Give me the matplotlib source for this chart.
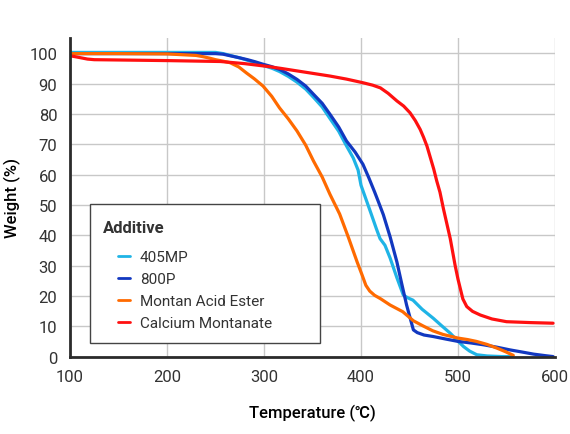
import matplotlib
matplotlib.use('Agg')
import matplotlib.pyplot as plt
from matplotlib.patches import Rectangle

plt.rcParams['font.family'] = ['Roboto', 'Noto Sans CJK JP', 'DejaVu Sans']

# TGA curves (temperature in C, weight in %)
t_405mp = [100, 150, 200, 250, 258, 265, 275, 283, 291, 299, 308, 316, 325, 334, 343, 351, 360, 368, 377, 385,
           392, 397, 400, 403, 410, 416, 419.6, 424.7, 430, 437, 443.6, 448, 453.6, 463, 474.6, 483, 492, 499,
           505.7, 512, 519.4, 530, 545, 555]
w_405mp = [100.3, 100.3, 100.3, 100.3, 99.9, 99.3, 98.5, 97.7, 96.9, 96.0, 95.1, 94.0, 92.4, 90.5, 88.2, 85.5, 82.3, 78.5, 74.3, 69.5,
           65.5, 61.5, 56.5, 53.8, 47.5, 42.0, 38.9, 36.7, 32.5, 26.0, 20.3, 19.4, 18.6, 15.6, 12.6, 10.2, 7.7, 5.4,
           3.3, 1.8, 0.6, 0.2, 0.0, 0.0]

t_800p = [100, 150, 200, 250, 258, 265, 275, 283, 291, 299, 308, 316, 325, 334, 343, 351, 360, 368, 377, 385,
          394, 402, 408, 414, 418, 423, 430, 437, 442, 447, 454, 458, 465, 474.6, 487, 500, 513, 526, 540, 553.6, 566,
          578, 590, 598]
w_800p = [99.9, 99.9, 99.9, 99.9, 99.7, 99.2, 98.5, 97.9, 97.2, 96.4, 95.6, 94.7, 93.2, 91.4, 89.2, 86.5, 83.5, 79.9, 75.7, 71.1,
          67.4, 63.4, 59.0, 54.3, 51.0, 46.8, 39.5, 31.2, 24.0, 17.0, 8.8, 7.9, 7.1, 6.6, 5.8, 5.0, 4.5, 3.9, 3.1, 2.2, 1.5,
          0.8, 0.3, 0.0]

t_mae = [100, 150, 200, 230, 237, 244, 250, 258, 265, 274, 282, 290, 299, 308, 316, 325, 334, 343, 351, 360,
         368, 378, 387, 396, 401, 405, 409, 414, 420, 430, 443, 454, 464, 474, 484.5, 500, 510, 519, 530, 540,
         549, 557]
w_mae = [99.9, 99.9, 99.8, 99.3, 98.9, 98.4, 97.9, 97.4, 96.9, 95.5, 93.5, 91.6, 89.2, 85.8, 82.0, 78.4, 74.4, 69.7, 64.5, 59.2,
         53.5, 47.0, 39.3, 31.2, 27.0, 23.5, 21.6, 20.2, 19.1, 17.0, 14.8, 11.8, 10.1, 8.5, 7.3, 6.1, 5.6, 5.0, 4.0, 2.8,
         1.6, 0.4]

t_camont = [100, 110, 118, 125, 150, 200, 255, 280, 303, 318, 334, 358, 368, 385, 402, 412, 420, 428, 437, 444,
            450.5, 456, 461, 464.5, 468, 471.5, 475, 478, 481.4, 485, 488.5, 492, 497, 500, 502.3, 505, 509, 515,
            523, 535, 550, 575, 598]
w_camont = [99.2, 98.6, 98.1, 97.9, 97.8, 97.6, 97.3, 96.6, 95.7, 95.0, 94.2, 93.0, 92.5, 91.5, 90.3, 89.5, 88.6, 86.8, 84.3, 82.6,
            80.4, 77.8, 74.9, 72.3, 69.4, 65.6, 61.8, 58.0, 54.2, 48.7, 43.8, 38.9, 30.1, 25.5, 22.5, 19.0, 16.5, 14.9,
            13.7, 12.4, 11.5, 11.2, 11.0]

series = [
    ('405MP', t_405mp, w_405mp, '#1fb4e6'),
    ('800P', t_800p, w_800p, '#1238c0'),
    ('Montan Acid Ester', t_mae, w_mae, '#ff6a00'),
    ('Calcium Montanate', t_camont, w_camont, '#ff1010'),
]

x_ticks = [100, 200, 300, 400, 500, 600]
y_ticks = [0, 10, 20, 30, 40, 50, 60, 70, 80, 90, 100]


def main():
    fig = plt.figure(figsize=(5.7, 4.35), dpi=100)
    ax = fig.add_axes([0.1228, 0.1780, 0.8509, 0.732])

    for name, t, w, col in series:
        ax.plot(t, w, color=col, linewidth=2.3, label=name,
                solid_capstyle='round', solid_joinstyle='round')

    ax.set_xlim(100, 600)
    ax.set_ylim(0, 105)
    ax.set_xticks(x_ticks)
    ax.set_yticks(y_ticks)
    ax.grid(True, color='#c8c8c8', linewidth=1.0)
    ax.set_axisbelow(True)

    for s in ['top', 'right']:
        ax.spines[s].set_visible(False)
    for s in ['left', 'bottom']:
        ax.spines[s].set_color('#2b2b2b')
        ax.spines[s].set_linewidth(2.0)

    ax.tick_params(length=0, labelsize=12, labelcolor='#333333')
    ax.tick_params(axis='x', pad=9)
    ax.tick_params(axis='y', pad=9)
    ax.set_xlabel('Temperature (℃)', fontsize=12, fontweight='medium', labelpad=14)
    ax.set_ylabel('Weight (%)', fontsize=12, fontweight='medium', labelpad=6)

    # legend box drawn by hand so the title can sit left of the indented entries
    box = Rectangle((0.041, 0.044), 0.474, 0.434, transform=ax.transAxes,
                    facecolor='white', edgecolor='#444444', linewidth=1.0, zorder=5)
    ax.add_patch(box)
    ax.text(0.068, 0.405, 'Additive', transform=ax.transAxes, fontsize=12,
            fontweight='bold', color='#333333', va='center', ha='left', zorder=6)

    leg = ax.legend(loc='upper left', bbox_to_anchor=(0.100, 0.334), frameon=False,
                    fontsize=11, handlelength=0.75, handletextpad=0.65, borderpad=0,
                    borderaxespad=0, labelspacing=0.52)
    leg.set_zorder(7)
    for txt in leg.get_texts():
        txt.set_color('#333333')
    for line in leg.get_lines():
        line.set_linewidth(2.0)

    fig.savefig('out.png', dpi=100)


if __name__ == "__main__":
    main()
